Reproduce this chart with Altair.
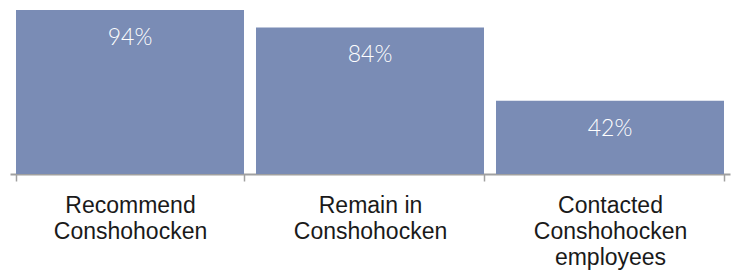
import altair as alt
import pandas as pd

categories = ["Recommend|Conshohocken", "Remain in|Conshohocken", "Contacted|Conshohocken|employees"]
values = [94, 84, 42]
value_labels = ["94%", "84%", "42%"]

df = pd.DataFrame({"category": categories, "value": values, "label": value_labels})

x = alt.X(
    "category:N",
    sort=None,
    title=None,
    scale=alt.Scale(paddingInner=0.05, paddingOuter=0.025),
    axis=alt.Axis(
        labelAngle=0,
        tickBand="extent",
        domainColor="#a0a0a0",
        domainWidth=2,
        tickColor="#a0a0a0",
        tickWidth=1.5,
        tickSize=7,
        labelPadding=13,
        labelBaseline="top",
        labelFont="Liberation Sans",
        labelFontSize=23,
        labelColor="#1a1a1a",
        labelLineHeight=26,
        labelExpr="split(datum.label, '|')",
        labelLimit=0,
    ),
)
y = alt.Y("value:Q", scale=alt.Scale(domain=[0, 94]), axis=None)

bars = alt.Chart(df).mark_bar(color="#7a8cb5").encode(x=x, y=y)
text = alt.Chart(df).mark_text(
    color="white", dy=35, baseline="alphabetic", align="center",
    font="Lato", fontWeight=300, fontSize=23
).encode(x=x, y=y, text="label:N")

chart = (bars + text).properties(
    width=720, height=164,
    autosize=alt.AutoSizeParams(type="none"),
    padding={"left": 2, "top": 2, "right": 1, "bottom": 100},
).configure_view(stroke=None)

chart.save("out.html", embed_options={"renderer": "svg", "actions": False})
